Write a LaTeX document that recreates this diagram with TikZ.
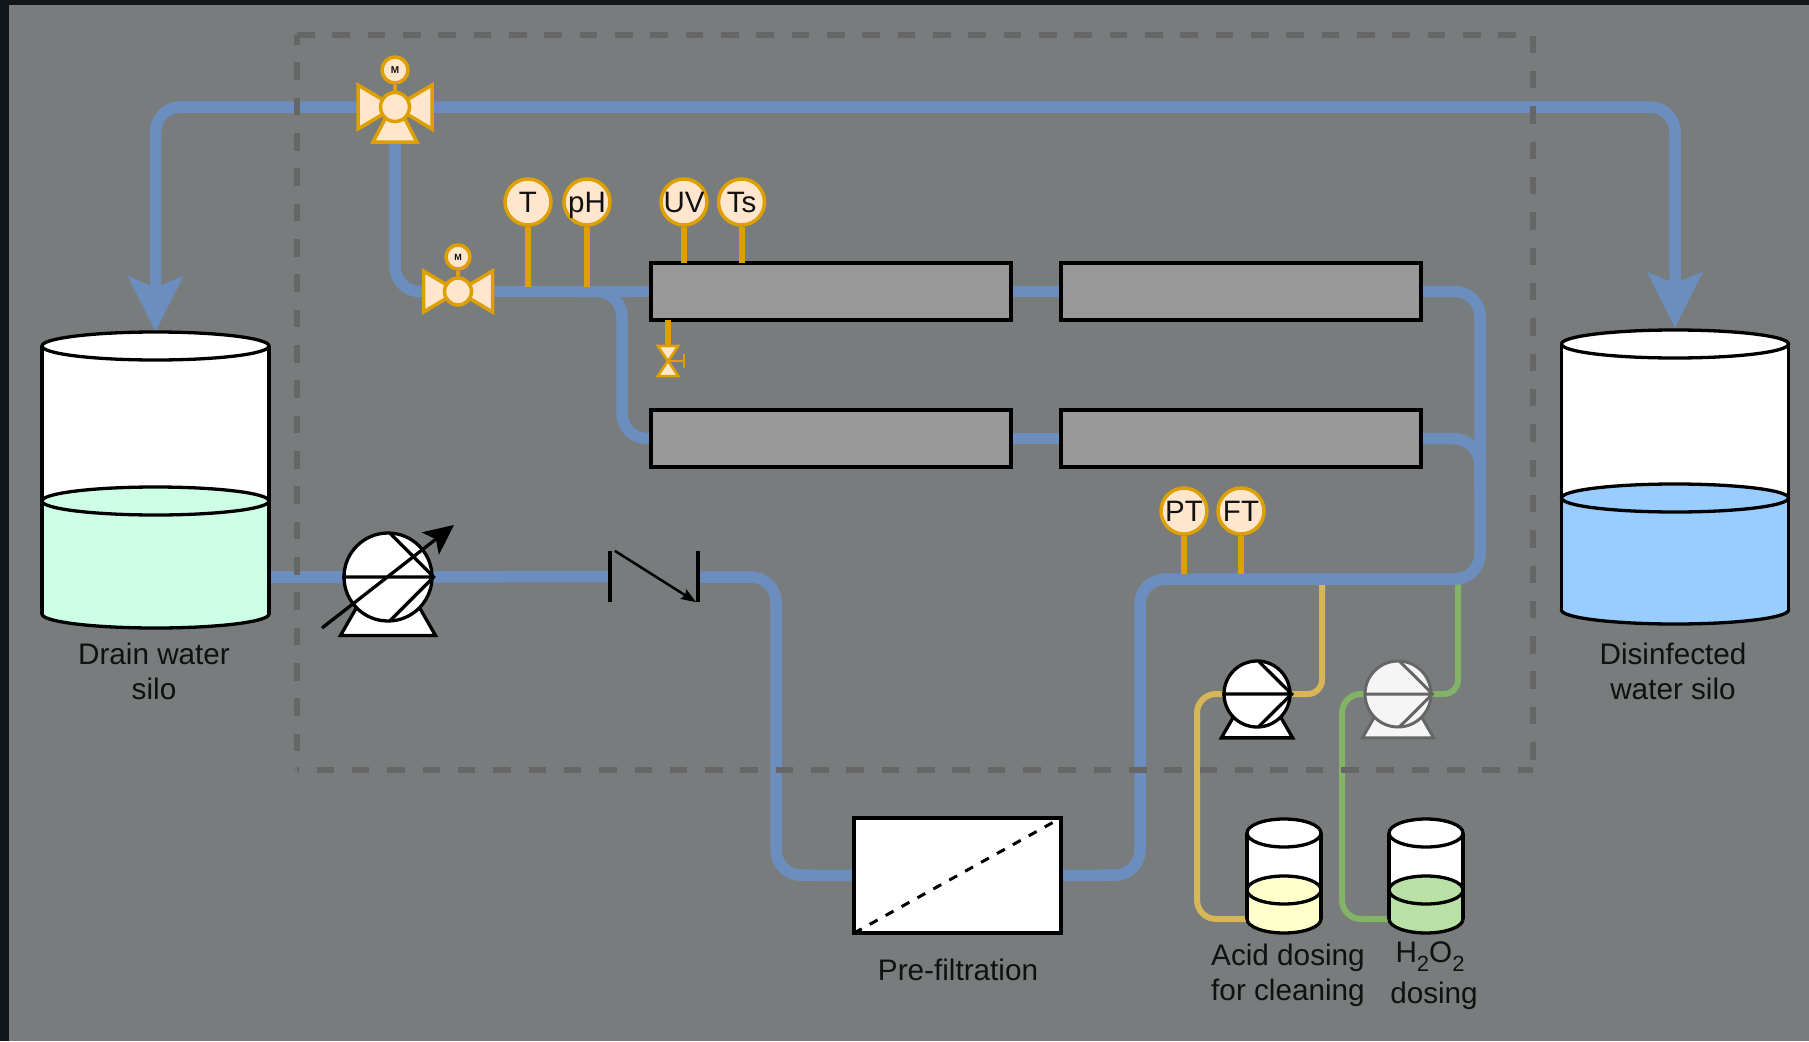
\documentclass[tikz,border=0pt]{standalone}
\usepackage{fontspec}
\setmainfont{Liberation Sans}
\usetikzlibrary{arrows.meta}
\definecolor{pagedark}{HTML}{11161A}
\definecolor{pagegray}{HTML}{787C7C}
\definecolor{pipeblue}{HTML}{6C8EBF}
\definecolor{dashgray}{HTML}{666666}
\definecolor{instr}{HTML}{DDA000}
\definecolor{instrfill}{HTML}{FFE6CC}
\definecolor{acidline}{HTML}{D6B656}
\definecolor{perox}{HTML}{82B366}
\definecolor{liqdrain}{HTML}{CCFFE6}
\definecolor{liqclean}{HTML}{99CCFF}
\definecolor{liqacid}{HTML}{FFFFCC}
\definecolor{liqperox}{HTML}{B9E0A5}
\definecolor{reactor}{HTML}{999999}
\definecolor{txt}{HTML}{111111}
\tikzset{
  pipe/.style={draw=pipeblue,line width=11.5pt,rounded corners=25pt},
  pipearrow/.style={pipe,-{Stealth[length=55pt,width=54pt,inset=11pt]}},
  acidpipe/.style={draw=acidline,line width=6pt,rounded corners=19pt},
  peroxpipe/.style={draw=perox,line width=6pt,rounded corners=19pt},
  stem/.style={draw=instr,line width=6pt},
  frame/.style={draw=dashgray,line width=6pt,dash pattern=on 17.6pt off 17.73pt},
  sensor/.style={circle,draw=instr,fill=instrfill,line width=3.5pt,minimum size=46pt,inner sep=0pt,text=txt,text height=20.8pt,text depth=0pt,font=\fontsize{29.5}{33}\selectfont},
  hub/.style={circle,draw=instr,fill=instrfill,line width=3.5pt,inner sep=0pt},
  wing/.style={draw=instr,fill=instrfill,line width=3.5pt,line join=miter},
  motor/.style={circle,draw=instr,fill=instrfill,line width=3.5pt,inner sep=0pt,text=txt,font=\bfseries\fontsize{10}{10}\selectfont},
  box/.style={rectangle,draw=black,line width=3.4pt,inner sep=0pt},
  ghost/.style={rectangle,inner sep=0pt},
  label/.style={text=txt,align=center,font=\fontsize{29.7}{34.5}\selectfont,inner sep=0pt},
  tankline/.style={draw=black,line width=3.3pt}
}
% name, cx, half width, y top centre, y level centre, y bottom centre, ry, liquid
\newcommand{\tankshape}[8]{
  \node[ghost,minimum width={2*#3*1pt},minimum height={(#6-#4+2*#7)*1pt}] (#1) at (#2,{(#4+#6)/2}) {};
  \draw[tankline,fill=#8] (#2,#6) ellipse [x radius=#3pt,y radius=#7pt];
  \fill[white] (#2-#3,#4) rectangle (#2+#3,#5);
  \fill[#8] (#2-#3,#5) rectangle (#2+#3,#6);
  \draw[tankline] (#2-#3,#4) -- (#2-#3,#6) (#2+#3,#4) -- (#2+#3,#6);
  \draw[tankline,fill=#8] (#2,#5) ellipse [x radius=#3pt,y radius=#7pt];
  \draw[tankline,fill=white] (#2,#4) ellipse [x radius=#3pt,y radius=#7pt];
}
% name, x, y, r, fill, stroke, line width
\newcommand{\pumpshape}[7]{
  \draw[draw=#6,fill=#5,line width=#7pt,line join=miter] (#2-1.08*#4,#3+1.33*#4) -- (#2+1.08*#4,#3+1.33*#4) -- (#2,#3-0.55*#4) -- cycle;
  \node[circle,draw=#6,fill=#5,line width=#7pt,minimum size={2*#4*1pt},inner sep=0pt] (#1) at (#2,#3) {};
  \draw[draw=#6,line width=#7pt] (#1.west) -- (#1.east) (#2+0.05*#4,#3-0.99*#4) -- (#1.east) -- (#2+0.05*#4,#3+0.99*#4);
}
% name, x, y, half width, half height, hub radius
\newcommand{\valveshape}[6]{
  \draw[wing] (#2,#3) -- (#2-#4,#3-#5) -- (#2-#4,#3+#5) -- cycle;
  \draw[wing] (#2,#3) -- (#2+#4,#3-#5) -- (#2+#4,#3+#5) -- cycle;
  \node[hub,minimum size={2*#6*1pt}] (#1) at (#2,#3) {};
}
\begin{document}
\begin{tikzpicture}[x=1pt,y=-1pt]
\useasboundingbox (0,0) rectangle (1809,1041);
\fill[pagedark] (0,0) rectangle (1809,1041);
\fill[pagegray] (9,5) rectangle (1809,1041);

% equipment anchors
\node[ghost,minimum width=227pt,minimum height=296pt] (drain) at (155.5,480) {};
\node[ghost,minimum width=227pt,minimum height=296pt] (clean) at (1675,476) {};
\node[ghost,minimum width=88pt,minimum height=51pt] (chk) at (654,576.5) {};
\node[ghost,minimum width=360pt,minimum height=57pt] (ra) at (831,291.5) {};
\node[ghost,minimum width=360pt,minimum height=57pt] (rb) at (1241,291.5) {};
\node[ghost,minimum width=360pt,minimum height=57pt] (rc) at (831,438.5) {};
\node[ghost,minimum width=360pt,minimum height=57pt] (rd) at (1241,438.5) {};
\node[ghost,minimum width=207pt,minimum height=115pt] (pre) at (957.5,875.5) {};
\coordinate (vtop) at (395,107);
\coordinate (vfeed) at (458,291.5);
\coordinate (pmain) at (388,577);
\coordinate (pacid) at (1257,694);
\coordinate (pperox) at (1398,694);
\coordinate (tacid) at (1247,919);
\coordinate (tperox) at (1389,919);
\coordinate (split) at (580,291.5);
\coordinate (splitc) at (622,291.5);
\coordinate (bendA) at (776,577);
\coordinate (bendB) at (776,875);
\coordinate (bendC) at (1140,875);
\coordinate (bendD) at (1140,579);
\coordinate (bendE) at (1480,579);
\coordinate (bendF) at (1480,291.5);
\coordinate (mergeA) at (1480,438.5);
\coordinate (mergeB) at (1480,490);
\coordinate (acidjoin) at (1322,579);
\coordinate (peroxjoin) at (1458,579);
\coordinate (acidleft) at (1197,694);
\coordinate (peroxleft) at (1342,694);

% dosing lines
\draw[acidpipe] (tacid) -| (acidleft) -- (pacid);
\draw[acidpipe,rounded corners=14pt] (pacid) -| (acidjoin);
\draw[peroxpipe] (tperox) -| (peroxleft) -- (pperox);
\draw[peroxpipe,rounded corners=14pt] (pperox) -| (peroxjoin);

% process lines
\draw[pipearrow] (vtop) -| (drain.north);
\draw[pipearrow] (vtop) -| (clean.north);
\draw[pipe] (vtop) |- (vfeed);
\draw[pipe] (vfeed) -- (ra.west);
\draw[pipe] (split) -- (splitc) -- (splitc |- rc.west) -- (rc.west);
\draw[pipe] (ra.east) -- (rb.west);
\draw[pipe] (rc.east) -- (rd.west);
\draw[pipe] (drain.east |- pmain) -- (pmain);
\draw[pipe] (pmain) -- (chk.west);
\draw[pipe] (chk.east |- pmain) -- (bendA) -- (bendB) -- (pre.west);
\draw[pipe] (pre.east) -- (bendC) -- (bendD) -- (bendE) -- (bendF) -- (rb.east);
\draw[pipe,rounded corners=27pt] (rd.east) -- (mergeA) -- (mergeB);

% boundary
\draw[frame] (297,35) -- (1533,35) -- (1533,770);
\draw[frame,dash phase=15.8pt] (297,770) -- (1533,770);
\draw[frame,dash phase=8pt] (297,35) -- (297,770);

% reactors and filter
\node[box,fill=reactor,minimum width=360pt,minimum height=57pt] at (ra) {};
\node[box,fill=reactor,minimum width=360pt,minimum height=57pt] at (rb) {};
\node[box,fill=reactor,minimum width=360pt,minimum height=57pt] at (rc) {};
\node[box,fill=reactor,minimum width=360pt,minimum height=57pt] at (rd) {};
\node[box,fill=white,minimum width=207pt,minimum height=115pt] at (pre) {};
\draw[line width=3pt,dash pattern=on 9pt off 9.2pt] (pre.south west) -- (pre.north east);

% tanks
\tankshape{silodrain}{155.5}{113.5}{346}{501}{614}{14}{liqdrain}
\tankshape{siloclean}{1675}{113.5}{344}{498}{610}{14}{liqclean}
\tankshape{tankacid}{1284}{37}{833}{890}{919}{14}{liqacid}
\tankshape{tankperox}{1426}{37}{833}{890}{919}{14}{liqperox}

% main valve
\draw[wing] (373,142) -- (417,142) -- (395,100) -- cycle;
\valveshape{vone}{395}{107}{37}{22}{14.5}
\node[motor,minimum size=26pt] (mone) at (395,70) {M};
\draw[draw=instr,line width=3.5pt] (mone.south) -- (vone.north);
% feed valve
\valveshape{vtwo}{458}{291.5}{34.5}{20.5}{13.5}
\node[motor,minimum size=24pt,font=\bfseries\fontsize{9}{9}\selectfont] (mtwo) at (458,257) {M};
\draw[draw=instr,line width=3.5pt] (mtwo.south) -- (vtwo.north);

% sensors
\coordinate (feedtop) at (0,287);
\coordinate (maintop) at (0,574);
\node[sensor] (st) at (528,202) {T};
\node[sensor] (sph) at (587,202) {pH};
\node[sensor] (suv) at (684,202) {UV};
\node[sensor] (sts) at (741.5,202) {Ts};
\node[sensor] (spt) at (1184,511) {PT};
\node[sensor] (sft) at (1241,511) {FT};
\draw[stem] (st.south) -- (st.south |- feedtop);
\draw[stem] (sph.south) -- (sph.south |- feedtop);
\draw[stem] (suv.south) -- (suv.south |- ra.north);
\draw[stem] (sts.south) -- (sts.south |- ra.north);
\draw[stem] (spt.south) -- (spt.south |- maintop);
\draw[stem] (sft.south) -- (sft.south |- maintop);

% sample valve
\coordinate (samp) at (668,361);
\draw[stem] (samp |- ra.south) -- (668,346);
\draw[wing,line width=2.8pt] (658,346) -- (678,346) -- (658,376) -- (678,376) -- cycle;
\fill[instrfill] (660.5,347.5) -- (675.5,347.5) -- (668,358.5) -- cycle (660.5,374.5) -- (675.5,374.5) -- (668,363.5) -- cycle;
\draw[draw=instr,line width=2.8pt] (samp) -- (684,361) (684,354) -- (684,368);

% pumps
\pumpshape{pumpmain}{388}{577}{44}{white}{black}{3.3}
\draw[draw=black,line width=3.3pt,-{Stealth[length=30pt,width=28pt,inset=7pt]}] (322,628) -- (454,525);
\pumpshape{pumpacid}{1257}{694}{33}{white}{black}{3.3}
\pumpshape{pumpperox}{1398}{694}{33}{white!96!black}{dashgray}{3}

% check valve
\draw[draw=black,line width=3.5pt] (chk.north west) -- (chk.south west) (chk.north east) -- (chk.south east);
\draw[draw=black,line width=2.5pt,-{Stealth[length=15pt,width=11pt,inset=2pt]}] ([xshift=5pt]chk.north west) -- ([xshift=-2pt]chk.south east);

% labels
\node[label] (ldrain) at (154,671.5) {Drain water\\silo};
\node[label] (lclean) at (1673,671.5) {Disinfected\\water silo};
\node[label] (lpre) at (958,970) {Pre-filtration};
\node[label] (lacid) at (1288,975.5) {Acid dosing\\for cleaning};
\node[label] (lperox) at (1430,957) {H\raisebox{-0.3em}{\fontsize{22}{22}\selectfont 2}O\raisebox{-0.3em}{\fontsize{22}{22}\selectfont 2}};
\node[label] (lperoxb) at (1434,996) {dosing};
\end{tikzpicture}
\end{document}
